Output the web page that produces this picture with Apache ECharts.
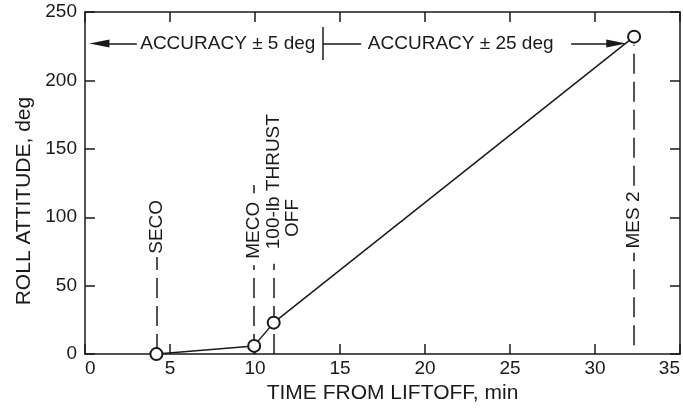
<!DOCTYPE html>
<html>
<head>
<meta charset="utf-8">
<script src="https://cdn.jsdelivr.net/npm/echarts@6/dist/echarts.min.js"></script>
<style>
html,body{margin:0;padding:0;background:#fff;}
#c{width:683px;height:409px;}
</style>
</head>
<body>
<div id="c"></div>
<script>
// ---- data ----
const times = [4.2, 9.95, 11.1, 32.3];          // min
const attitudes = [0, 6, 23, 232];               // deg
const eventLabels = ['SECO', 'MECO', '100-lb THRUST', 'MES 2'];
const eventLabel2 = 'OFF';
const accuracyLabels = ['ACCURACY \u00b1 5 deg', 'ACCURACY \u00b1 25 deg'];
const accuracySplit = 14;                        // min, boundary between accuracy ranges
const xTickValues = [0, 5, 10, 15, 20, 25, 30, 35];
const yTickValues = [0, 50, 100, 150, 200, 250];

const FONT = 'Liberation Sans';
const INK = '#1a1a1a';
const FS = 19;

const chart = echarts.init(document.getElementById('c'), null, {renderer: 'canvas'});

function makeAxis(extra) {
  return Object.assign({
    axisLine: {show: true, onZero: false, lineStyle: {color: INK, width: 1.5}},
    axisTick: {show: true, inside: true, length: 10, lineStyle: {color: INK, width: 1.5}},
    splitLine: {show: false}
  }, extra);
}

const xMin = xTickValues[0], xMax = xTickValues[xTickValues.length - 1];
const yMin = yTickValues[0], yMax = yTickValues[yTickValues.length - 1];

const dash = {color: INK, width: 1.5, type: [20, 8]};
const solid = {color: INK, width: 1.5, type: 'solid'};

function vseg(x, y1, y2, style) {
  return [{coord: [x, y1], lineStyle: style || dash}, {coord: [x, y2]}];
}

const yAcc = 227;
const markLines = [
  vseg(times[0], 0, 71),
  vseg(times[1], 0, 65),
  vseg(times[1], 117.5, 123.5, solid),
  vseg(times[2], 0, 66),
  vseg(times[3], 6.5, 74),
  vseg(times[3], 123, 226),
  [{coord: [3.05, yAcc], lineStyle: solid, symbol: 'none'}, {coord: [0.85, yAcc], symbol: 'triangle', symbolSize: [8, 20]}],
  [{coord: [28.6, yAcc], lineStyle: solid, symbol: 'none'}, {coord: [31.25, yAcc], symbol: 'triangle', symbolSize: [8, 20]}],
  [{coord: [accuracySplit, 215], lineStyle: solid, symbol: 'none'}, {coord: [accuracySplit, 239], symbol: 'none'}],
  [{coord: [accuracySplit, yAcc], lineStyle: solid, symbol: 'none'}, {coord: [16.25, yAcc], symbol: 'none'}]
];

function textPoint(x, y, text, rotate) {
  return {
    coord: [x, y], symbol: 'circle', symbolSize: 0,
    label: {show: true, position: 'inside', formatter: text, rotate: rotate || 0,
      color: INK, fontSize: FS, fontFamily: FONT}
  };
}

const markPoints = [
  textPoint(times[0], 93, eventLabels[0], 90),
  textPoint(times[1], 90.5, eventLabels[1], 90),
  textPoint(times[2], 126, eventLabels[2], 90),
  textPoint(12.2, 99.5, eventLabel2, 90),
  textPoint(times[3], 98, eventLabels[3], 90),
  textPoint(8.4, yAcc, accuracyLabels[0], 0),
  textPoint(22.1, yAcc, accuracyLabels[1], 0)
];

const option = {
  backgroundColor: '#fff',
  animation: false,
  textStyle: {fontFamily: FONT, color: INK},
  grid: {left: 85, right: 2, top: 12, bottom: 53},
  xAxis: [
    makeAxis({
      type: 'value', min: xMin, max: xMax, interval: 5, position: 'bottom',
      name: 'TIME FROM LIFTOFF, min', nameLocation: 'middle', nameGap: 27,
      nameTextStyle: {fontSize: 21, color: INK, fontFamily: FONT, padding: [0, 0, 0, 20]},
      axisLabel: {show: true, color: INK, fontSize: FS, fontFamily: FONT, margin: 5,
        alignMinLabel: 'left', alignMaxLabel: 'right'}
    }),
    makeAxis({
      type: 'value', min: xMin, max: xMax, interval: 5, position: 'top',
      axisLabel: {show: false}
    })
  ],
  yAxis: [
    makeAxis({
      type: 'value', min: yMin, max: yMax, interval: 50, position: 'left',
      name: 'ROLL ATTITUDE, deg', nameLocation: 'middle', nameGap: 50,
      nameTextStyle: {fontSize: 21, color: INK, fontFamily: FONT, padding: [0, 36, 0, 0]},
      axisLabel: {show: true, color: INK, fontSize: FS, fontFamily: FONT, margin: 8}
    }),
    makeAxis({
      type: 'value', min: yMin, max: yMax, interval: 50, position: 'right',
      axisLabel: {show: false}
    })
  ],
  series: [
    {
      type: 'scatter', xAxisIndex: 0, yAxisIndex: 0, data: [], z: 1, silent: true,
      markLine: {silent: true, symbol: ['none', 'none'], label: {show: false},
        lineStyle: dash, data: markLines, animation: false},
      markPoint: {silent: true, data: markPoints, animation: false}
    },
    {
      type: 'line', xAxisIndex: 0, yAxisIndex: 0, z: 5,
      data: times.map((t, i) => [t, attitudes[i]]),
      symbol: 'emptyCircle', symbolSize: 12, showSymbol: true,
      lineStyle: {color: INK, width: 1.5},
      itemStyle: {color: INK, borderColor: INK, borderWidth: 1.5}
    }
  ]
};
chart.setOption(option);
</script>
</body>
</html>
